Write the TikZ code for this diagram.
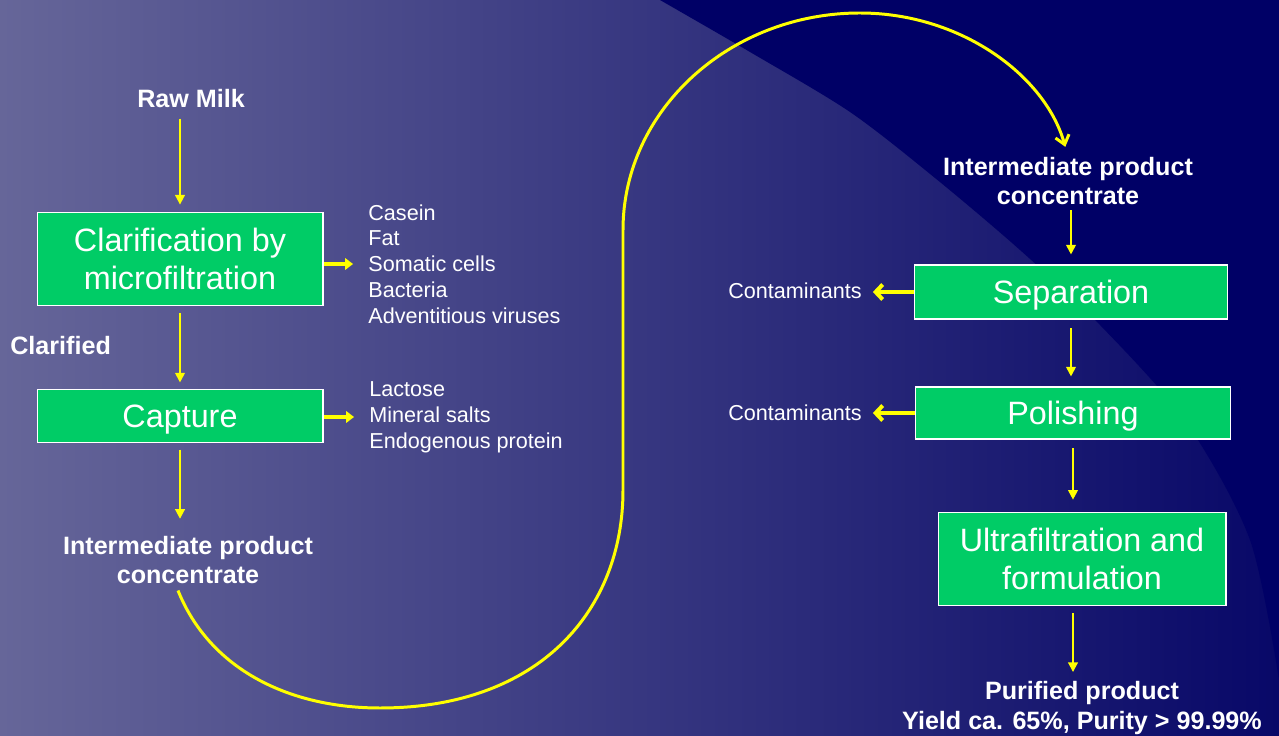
\documentclass[tikz,border=0pt]{standalone}
\usepackage{fontspec}
\setmainfont{Liberation Sans}
\usepackage{xcolor}
\usetikzlibrary{arrows.meta}
\definecolor{bgleft}{HTML}{666699}
\definecolor{bgmid}{HTML}{484886}
\definecolor{bgright}{HTML}{080868}
\definecolor{navy}{HTML}{000066}
\definecolor{boxgreen}{HTML}{00CC66}
\definecolor{flowyellow}{HTML}{FFFF00}

\begin{document}
\begin{tikzpicture}[x=0.02cm,y=-0.02cm,
  stepbox/.style={draw=white,line width=0.6pt,fill=boxgreen,text=white,align=center,inner sep=0pt,text depth=0pt,font=\fontsize{18.4}{21.5}\selectfont},
  title/.style={text=white,align=center,inner sep=0pt,font=\fontsize{14.3}{17}\selectfont\bfseries},
  items/.style={text=white,align=left,inner sep=0pt,font=\fontsize{12.3}{14.7}\selectfont},
  flow/.style={draw=flowyellow,line width=1.1pt,-{Triangle[length=5.5pt,width=5.5pt]}},
  sideout/.style={draw=flowyellow,line width=2.3pt,-{Triangle[length=4.5pt,width=6.5pt]}},
  waste/.style={draw=flowyellow,line width=2.3pt,-{Straight Barb[length=4pt,width=8.5pt]}},
  loop/.style={draw=flowyellow,line width=1.7pt,-{Straight Barb[length=5pt,width=8pt]}}]
\useasboundingbox (0,0) rectangle (1279,736);
\shade[left color=bgleft,middle color=bgmid,right color=bgright] (0,0) rectangle (1279,736);
\fill[navy] plot[smooth] coordinates {(660,0) (750,52) (850,112) (935,178) (1020,250) (1100,325) (1186,422) (1250,540) (1279,680)} -- (1279,0) -- cycle;

\node[title] (raw) at (191,99) {Raw Milk};
\node[stepbox,minimum width=5.72cm,minimum height=1.86cm] (clar) at (180,259) {Clarification by\\microfiltration};
\node[title,anchor=west] (clarified) at (10,346) {Clarified};
\node[stepbox,minimum width=5.72cm,minimum height=1.06cm] (capt) at (180,416) {Capture};
\node[title] (midL) at (188,560) {Intermediate product\\concentrate};
\node[items,anchor=west] (lst1) at (368,264) {Casein\\Fat\\Somatic cells\\Bacteria\\Adventitious viruses};
\node[items,anchor=west] (lst2) at (369,417) {Lactose\\Mineral salts\\Endogenous protein};

\node[title] (midR) at (1068,181) {Intermediate product\\concentrate};
\node[stepbox,minimum width=6.26cm,minimum height=1.08cm] (sep) at (1071,292) {Separation};
\node[stepbox,minimum width=6.3cm,minimum height=1.04cm] (pol) at (1073,413) {Polishing};
\node[stepbox,minimum width=5.76cm,minimum height=1.86cm] (ultra) at (1082,559) {Ultrafiltration and\\formulation};
\node[items,anchor=east] (cont1) at (862,291) {Contaminants};
\node[items,anchor=east] (cont2) at (862,413) {Contaminants};
\node[title] (pure) at (1082,708) {Purified product\\Yield ca. 65\%, Purity > 99.99\%};

\draw[flow,shorten <=5.7pt,shorten >=4.2pt] (clar.north |- raw.south) -- (clar.north);
\draw[flow,shorten <=4.2pt,shorten >=3.7pt] (clar) -- (capt);
\draw[flow,shorten <=3.7pt,shorten >=9.5pt] (capt.south) -- (capt.south |- midL.north);
\draw[sideout,shorten >=8.5pt] (clar.east |- lst1.west) -- (lst1.west);
\draw[sideout,shorten >=8.5pt] (capt.east |- lst2.west) -- (lst2.west);

\draw[loop,shorten >=5.7pt] ([shift={(-10,6)}]midL.south) .. controls (210,670) and (290,708) .. (380,708)
  .. controls (540,708) and (623,610) .. (623,490) -- (623,230)
  .. controls (623,110) and (730,13) .. (860,13) .. controls (960,13) and (1045,75) .. (midR.north);

\draw[flow,shorten <=2.7pt,shorten >=5.7pt] (sep.north |- midR.south) -- (sep.north);
\draw[flow,shorten <=5.1pt,shorten >=5.7pt] (sep.south) -- (sep.south |- pol.north);
\draw[flow,shorten <=5.1pt,shorten >=7pt] (pol.south) -- (pol.south |- ultra.north);
\draw[flow,shorten <=4.2pt,shorten >=5.1pt] (pol.south |- ultra.south) -- (pol.south |- pure.north);
\draw[waste,shorten >=6.2pt] (sep.west) -- (sep.west -| cont1.east);
\draw[waste,shorten >=6.2pt] (pol.west) -- (pol.west -| cont2.east);
\end{tikzpicture}
\end{document}
